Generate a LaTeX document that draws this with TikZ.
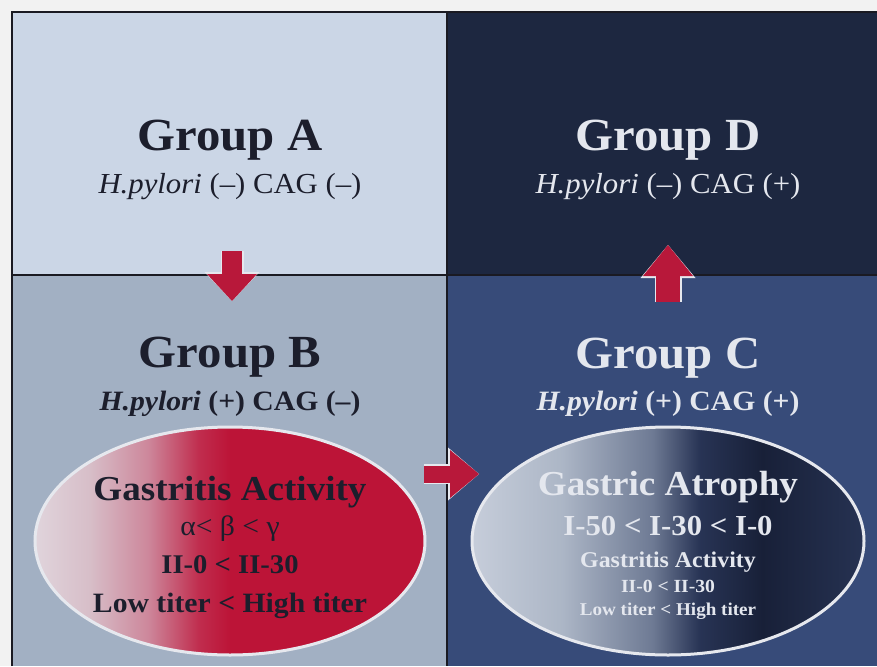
\documentclass[tikz,border=0pt]{standalone}
\usepackage{fontspec}
\setmainfont[FakeStretch=1.06]{Liberation Serif}
\usetikzlibrary{arrows.meta}
\definecolor{pagebg}{HTML}{F2F2F2}
\definecolor{cellA}{HTML}{CBD6E6}
\definecolor{cellB}{HTML}{A2B0C3}
\definecolor{cellC}{HTML}{374B79}
\definecolor{cellD}{HTML}{1D2740}
\definecolor{gridc}{HTML}{1A1A22}
\definecolor{darktxt}{HTML}{1C1E2C}
\definecolor{lighttxt}{HTML}{E4E7EE}
\definecolor{arrred}{HTML}{B8183A}
\definecolor{ellrim}{HTML}{E6E8EE}
\definecolor{bA}{RGB}{224,212,220}
\definecolor{bB}{RGB}{215,190,200}
\definecolor{bC}{RGB}{205,135,155}
\definecolor{bD}{RGB}{192,45,78}
\definecolor{bE}{RGB}{188,20,55}
\definecolor{cA}{RGB}{198,205,218}
\definecolor{cB}{RGB}{172,182,198}
\definecolor{cC}{RGB}{110,122,148}
\definecolor{cD}{RGB}{40,52,85}
\definecolor{cE}{RGB}{24,32,56}
\definecolor{cF}{RGB}{38,50,82}
\pgfdeclarehorizontalshading{ellBshade}{100bp}{color(0bp)=(bA); color(25bp)=(bA); color(32bp)=(bB); color(39.5bp)=(bC); color(46bp)=(bD); color(50bp)=(bE); color(100bp)=(bE)}
\pgfdeclarehorizontalshading{ellCshade}{100bp}{color(0bp)=(cA); color(25bp)=(cA); color(36.5bp)=(cB); color(48bp)=(cC); color(54bp)=(cD); color(62bp)=(cE); color(75bp)=(cF); color(100bp)=(cF)}
\tikzset{
  gridline/.style={draw=gridc, line width=1.6pt},
  ttl/.style={anchor=base, inner sep=0pt, font=\bfseries\fontsize{46}{46}\selectfont},
  subn/.style={anchor=base, inner sep=0pt, font=\fontsize{29}{29}\selectfont},
  subb/.style={anchor=base, inner sep=0pt, font=\bfseries\fontsize{28}{28}\selectfont},
  etxt/.style={anchor=base, inner sep=0pt},
  rim/.style={draw=ellrim, line width=3pt},
  arrowout/.style={draw=ellrim, line width=#1},
  arrowin/.style={draw=arrred, line width=#1},
}
\begin{document}
\begin{tikzpicture}[x=1pt,y=-1pt]
\useasboundingbox (0,0) rectangle (877,666);
\fill[pagebg] (0,0) rectangle (877,666);
% cells
\fill[cellA] (12,12) rectangle (447,275);
\fill[cellD] (447,12) rectangle (877,275);
\fill[cellB] (12,275) rectangle (447,666);
\fill[cellC] (447,275) rectangle (877,666);
\draw[gridline] (12,666) -- (12,12) -- (877,12);
\draw[gridline] (12,275) -- (877,275);
\draw[gridline] (447,12) -- (447,666);
% ellipses
\shade[shading=ellBshade] (230,541) ellipse [x radius=195pt, y radius=114pt];
\draw[rim] (230,541) ellipse [x radius=195pt, y radius=114pt];
\shade[shading=ellCshade] (668,541) ellipse [x radius=196pt, y radius=114pt];
\draw[rim] (668,541) ellipse [x radius=196pt, y radius=114pt];
% group texts
\node[ttl, text=darktxt] (gA) at (230,150) {Group A};
\node[subn, text=darktxt] (sA) at (230,193) {\textit{H.pylori} (–) CAG (–)};
\node[ttl, text=lighttxt] (gD) at (668,150) {Group D};
\node[subn, text=lighttxt] (sD) at (668,193) {\textit{H.pylori} (–) CAG (+)};
\node[ttl, text=darktxt] (gB) at (230,367) {Group B};
\node[subb, text=darktxt] (sB) at (230,410) {\textit{H.pylori} (+) CAG (–)};
\node[ttl, text=lighttxt] (gC) at (668,368) {Group C};
\node[subb, text=lighttxt] (sC) at (668,410) {\textit{H.pylori} (+) CAG (+)};
% ellipse B text
\node[etxt, text=darktxt, font=\bfseries\fontsize{35}{35}\selectfont] (b1) at (230,500) {Gastritis Activity};
\node[etxt, text=darktxt, font=\fontsize{28}{28}\selectfont] (b2) at (230,535) {α< β < γ};
\node[etxt, text=darktxt, font=\bfseries\fontsize{27}{27}\selectfont] (b3) at (230,573) {II-0 < II-30};
\node[etxt, text=darktxt, font=\bfseries\fontsize{28}{28}\selectfont] (b4) at (230,612) {Low titer < High titer};
% ellipse C text
\node[etxt, text=lighttxt, font=\bfseries\fontsize{35}{35}\selectfont] (c1) at (668,495) {Gastric Atrophy};
\node[etxt, text=lighttxt, font=\bfseries\fontsize{29}{29}\selectfont] (c2) at (668,535) {I-50 < I-30 < I-0};
\node[etxt, text=lighttxt, font=\bfseries\fontsize{22.5}{22.5}\selectfont] (c3) at (668,567) {Gastritis Activity};
\node[etxt, text=lighttxt, font=\bfseries\fontsize{18.5}{18.5}\selectfont] (c4) at (668,592) {II-0 < II-30};
\node[etxt, text=lighttxt, font=\bfseries\fontsize{18}{18}\selectfont] (c5) at (668,615) {Low titer < High titer};
% arrow end points
\coordinate (abS) at (232,251);
\coordinate (abE) at (232,301);
\coordinate (cdS) at (668,302);
\coordinate (cdE) at (668,245);
\coordinate (bcS) at (424,474);
\coordinate (bcE) at (479,474);
% arrows
\draw[arrowout=23pt, -{Triangle[length=29pt,width=55pt,line width=0pt]}] (abS) -- (abE);
\draw[arrowin=20pt, -{Triangle[length=27pt,width=50pt,line width=0pt]}] (abS) -- (abE);
\draw[arrowout=27pt, -{Triangle[length=33pt,width=55pt,line width=0pt]}] (cdS) -- (cdE);
\draw[arrowin=24pt, -{Triangle[length=31pt,width=50pt,line width=0pt]}] (cdS) -- (cdE);
\draw[arrowout=20pt, -{Triangle[length=31pt,width=53pt,line width=0pt]}] (bcS) -- (bcE);
\draw[arrowin=17pt, -{Triangle[length=29pt,width=48pt,line width=0pt]}] (bcS) -- (bcE);
\end{tikzpicture}
\end{document}
